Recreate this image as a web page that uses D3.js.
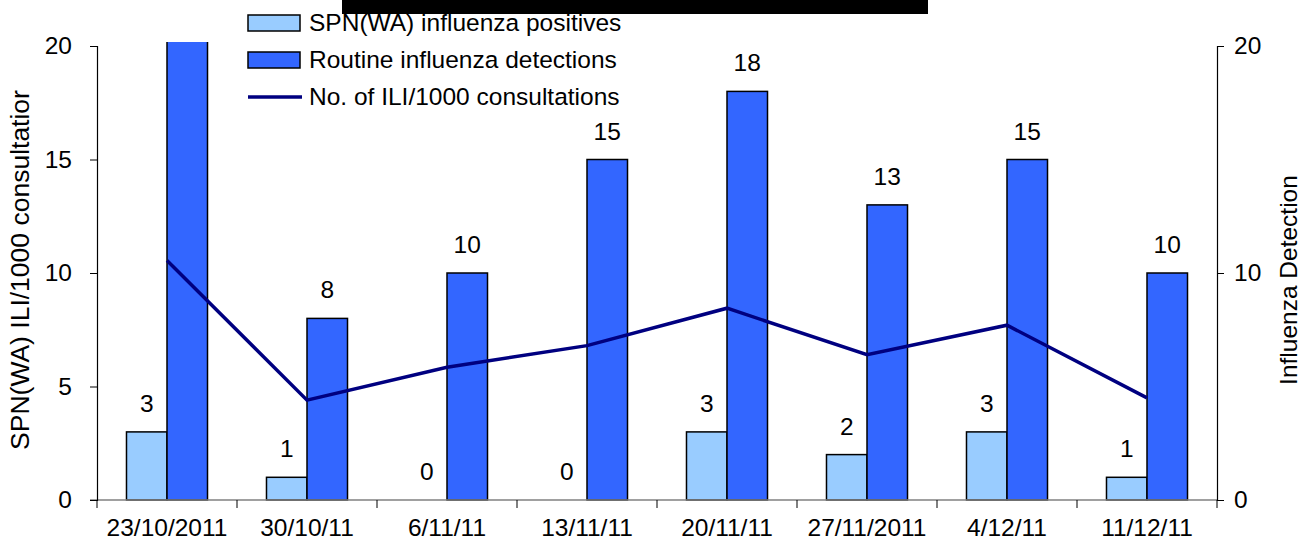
<!DOCTYPE html>
<html>
<head>
<meta charset="utf-8">
<script src="https://cdn.jsdelivr.net/npm/d3@7"></script>
<style>
  body { margin: 0; background: #fff; }
  svg { display: block; font-family: "Liberation Sans", Arial, sans-serif; }
</style>
</head>
<body>
<svg id="chart" width="1301" height="547"></svg>
<script>
'use strict';

// week labels on the x axis
var weeks = ['23/10/2011', '30/10/11', '6/11/11', '13/11/11', '20/11/11', '27/11/2011', '4/12/11', '11/12/11'];

// bars (right axis, influenza detections)
var spnPositives = [3, 1, 0, 0, 3, 2, 3, 1];
var routineDetections = [26, 8, 10, 15, 18, 13, 15, 10];  // first one runs off the top, real value unknown

// line (left axis, ILI per 1000 consultations)
var iliRate = [10.55, 4.4, 5.85, 6.8, 8.45, 6.4, 7.7, 4.5];

var leftTicks = [0, 5, 10, 15, 20];
var rightTicks = [0, 10, 20];

var seriesNames = ['SPN(WA) influenza positives', 'Routine influenza detections', 'No. of ILI/1000 consultations'];
var colors = { spn: '#99ccff', routine: '#3366ff', ili: '#000080' };

var svg = d3.select('#chart');
var fontSize = 24.5;

var x = d3.scaleBand().domain(weeks).range([97, 1217]).paddingInner(0).paddingOuter(0);
var x1 = d3.scaleBand().domain(['spn', 'routine']).range([0, x.bandwidth()]).paddingInner(0).paddingOuter(0.728);
var y = d3.scaleLinear().domain([0, 20]).range([500, 46]);
var yR = d3.scaleLinear().domain([0, 20]).range([500, 46]);

// clip so the tall first bar gets cut at the plot top
svg.append('defs').append('clipPath').attr('id', 'plotclip')
  .append('rect').attr('x', 97).attr('y', 42).attr('width', 1120).attr('height', 460);

// redaction bar at the very top
svg.append('rect').attr('x', 342).attr('y', 0).attr('width', 586).attr('height', 14).attr('fill', '#000');

var plot = svg.append('g').attr('clip-path', 'url(#plotclip)');

// bars
var groups = plot.selectAll('g.week')
  .data(weeks)
  .enter().append('g')
  .attr('class', 'week')
  .attr('transform', function(d) { return 'translate(' + x(d) + ',0)'; });

groups.append('rect')
  .attr('x', x1('spn'))
  .attr('width', x1.bandwidth())
  .attr('y', function(d, i) { return yR(spnPositives[i]); })
  .attr('height', function(d, i) { return yR(0) - yR(spnPositives[i]); })
  .attr('fill', colors.spn)
  .attr('stroke', function(d, i) { return spnPositives[i] > 0 ? '#000' : 'none'; })
  .attr('stroke-width', 1.5);

groups.append('rect')
  .attr('x', x1('routine'))
  .attr('width', x1.bandwidth())
  .attr('y', function(d, i) { return yR(routineDetections[i]); })
  .attr('height', function(d, i) { return yR(0) - yR(routineDetections[i]); })
  .attr('fill', colors.routine)
  .attr('stroke', '#000')
  .attr('stroke-width', 1.5);

// axes
var xAxisG = svg.append('g');
xAxisG.append('line')
  .attr('x1', 90).attr('x2', 1217).attr('y1', y(0)).attr('y2', y(0))
  .attr('stroke', '#808080').attr('stroke-width', 1.5);

var boundaries = weeks.map(function(d) { return x(d); }).concat([x.range()[1]]);
xAxisG.selectAll('line.tick')
  .data(boundaries)
  .enter().append('line')
  .attr('class', 'tick')
  .attr('x1', function(d) { return d; }).attr('x2', function(d) { return d; })
  .attr('y1', y(0)).attr('y2', y(0) + 8)
  .attr('stroke', '#000').attr('stroke-width', 1);

xAxisG.selectAll('text.week')
  .data(weeks)
  .enter().append('text')
  .attr('class', 'week')
  .attr('x', function(d) { return x(d) + x.bandwidth() / 2; })
  .attr('y', 536)
  .attr('text-anchor', 'middle')
  .attr('font-size', fontSize)
  .attr('fill', '#000')
  .text(function(d) { return d; });

var leftAxis = svg.append('g')
  .attr('transform', 'translate(97,0)')
  .call(d3.axisLeft(y).tickValues(leftTicks).tickSize(7).tickPadding(18).tickFormat(d3.format('d')));

var rightAxis = svg.append('g')
  .attr('transform', 'translate(1217,0)')
  .call(d3.axisRight(yR).tickValues(rightTicks).tickSize(7).tickPadding(10).tickFormat(d3.format('d')));

[leftAxis, rightAxis].forEach(function(g) {
  g.select('.domain').attr('stroke', '#000').attr('stroke-width', 1.2);
  g.selectAll('.tick line').attr('stroke', '#000');
  g.selectAll('.tick text').attr('font-size', fontSize).attr('font-family', '"Liberation Sans", Arial, sans-serif').attr('fill', '#000');
});

// axis titles
svg.append('text')
  .attr('transform', 'translate(29,' + 270 + ') rotate(-90)')
  .attr('text-anchor', 'middle')
  .attr('font-size', 26.5)
  .text('SPN(WA) ILI/1000 consultatior');

svg.append('text')
  .attr('transform', 'translate(1297,' + 280 + ') rotate(-90)')
  .attr('text-anchor', 'middle')
  .attr('font-size', fontSize)
  .text('Influenza Detection');

// ILI line
var line = d3.line()
  .x(function(d, i) { return x(weeks[i]) + x.bandwidth() / 2; })
  .y(function(d) { return y(d); });

svg.append('path')
  .datum(iliRate)
  .attr('d', line)
  .attr('fill', 'none')
  .attr('stroke', colors.ili)
  .attr('stroke-width', 3.5);

// data labels, hidden if the bar runs off the chart
var labels = svg.append('g').attr('font-size', fontSize).attr('text-anchor', 'middle');
weeks.forEach(function(w, i) {
  labels.append('text')
    .attr('x', x(w) + x1('spn') + x1.bandwidth() / 2)
    .attr('y', yR(spnPositives[i]) - 20)
    .text(spnPositives[i]);
  if (routineDetections[i] <= yR.domain()[1]) {
    labels.append('text')
      .attr('x', x(w) + x1('routine') + x1.bandwidth() / 2)
      .attr('y', yR(routineDetections[i]) - 20)
      .text(routineDetections[i]);
  }
});

// legend
var legend = svg.append('g').attr('transform', 'translate(248,0)');
var rowY = [23, 60, 97];
legend.append('rect').attr('x', 0).attr('y', rowY[0] - 8).attr('width', 52).attr('height', 16)
  .attr('fill', colors.spn).attr('stroke', '#000').attr('stroke-width', 1.5);
legend.append('rect').attr('x', 0).attr('y', rowY[1] - 8).attr('width', 52).attr('height', 16)
  .attr('fill', colors.routine).attr('stroke', '#000').attr('stroke-width', 1.5);
legend.append('line').attr('x1', 0).attr('x2', 54).attr('y1', rowY[2]).attr('y2', rowY[2])
  .attr('stroke', colors.ili).attr('stroke-width', 3.5);
legend.selectAll('text')
  .data(seriesNames)
  .enter().append('text')
  .attr('x', 61)
  .attr('y', function(d, i) { return rowY[i] + 8; })
  .attr('font-size', fontSize)
  .text(function(d) { return d; });
</script>
</body>
</html>
